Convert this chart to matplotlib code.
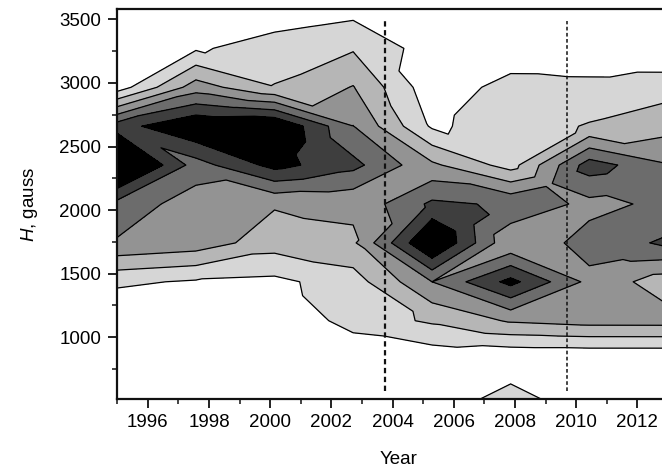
import numpy as np
import matplotlib
matplotlib.use("Agg")
import matplotlib.pyplot as plt
import matplotlib.tri as mtri
from matplotlib.ticker import MultipleLocator

plt.rcParams['font.family'] = ['Liberation Sans', 'DejaVu Sans']
plt.rcParams['mathtext.fontset'] = 'custom'
plt.rcParams['mathtext.it'] = 'Liberation Sans:italic'
plt.rcParams['mathtext.rm'] = 'Liberation Sans'

# grid of the map: years across, field strength (gauss) up
years = [1995.0, 1997.57, 2000.14, 2002.71, 2005.29, 2007.86, 2010.43, 2013.0]
field = [518, 824, 1130, 1436, 1742, 2048, 2354, 2660, 2966, 3272, 3578]

# occurrence level, one row per field value (bottom to top)
z = [
    [0.00, 0.00, 0.00, 0.00, 0.00, 1.60, 0.00, 0.00],
    [0.00, 0.00, 0.00, 0.00, 0.31, 0.00, 0.00, 0.00],
    [0.00, 0.00, 0.00, 1.45, 2.15, 3.12, 3.39, 3.40],
    [1.19, 0.88, 0.75, 1.53, 4.00, 6.32, 3.72, 2.43],
    [3.89, 3.56, 2.45, 2.83, 7.30, 3.15, 4.40, 5.18],
    [4.66, 3.48, 3.10, 3.20, 5.20, 4.85, 3.70, 4.24],
    [8.00, 4.56, 6.35, 5.30, 3.20, 1.58, 5.50, 4.12],
    [5.55, 7.00, 7.13, 4.02, 0.85, 1.43, 2.09, 2.61],
    [0.47, 3.50, 2.05, 3.05, 0.35, 1.38, 1.20, 1.63],
    [0.00, 0.86, 1.50, 1.90, 0.50, 0.30, 0.45, 0.00],
    [0.00, 0.00, 0.30, 0.65, 0.00, 0.00, 0.00, 0.00],
]

levels = [-1, 1, 2, 3, 4, 5, 6, 10]
shades = ['#ffffff', '#d6d6d6', '#b6b6b6', '#939393', '#6c6c6c', '#3e3e3e', '#000000']

# dashed markers for the cycle minima
minima = [2003.76, 2009.69]
minima_lw = [1.6, 1.1]


def edge_point(a, b, t):
    f = (t - a[2]) / (b[2] - a[2])
    return np.array([a[0] + f * (b[0] - a[0]), a[1] + f * (b[1] - a[1])])


def choose_split(zbl, zbr, ztl, ztr):
    # 0: cut the cell along BL-TR, 1: along BR-TL, 2: four triangles
    # round the cell mean.  Saddles never join the peaks; otherwise take
    # the cut that bends the contour lines least.
    BL, BR, TL, TR = (0, 0, zbl), (1, 0, zbr), (0, 1, ztl), (1, 1, ztr)
    C = (0.5, 0.5, (zbl + zbr + ztl + ztr) / 4)
    inner = [[(BL, TR)], [(BR, TL)], [(BL, C), (BR, C), (TL, C), (TR, C)]]
    cost = [0.0, 0.0, 0.0]
    for t in levels[1:-1]:
        hi = [p[2] > t for p in (BL, BR, TL, TR)]
        if hi[0] == hi[3] and hi[1] == hi[2] and hi[0] != hi[1]:
            cost[0 if hi[0] else 1] += 1000
            if C[2] > t:
                cost[2] += 1000
            continue
        pts = [edge_point(a, b, t) for a, b in ((BL, BR), (BR, TR), (TL, TR), (BL, TL))
               if (a[2] > t) != (b[2] > t)]
        if len(pts) != 2:
            continue
        p, r = pts
        d = r - p
        for k, segs in enumerate(inner):
            for a, b in segs:
                if (a[2] > t) != (b[2] > t):
                    q = edge_point(a, b, t) - p
                    cost[k] += abs(d[0] * q[1] - d[1] * q[0]) / np.hypot(*d)
    return int(np.argmin(cost)), C[2]


Z = np.array(z)
X, Y = np.meshgrid(years, field)
ny, nx = Z.shape
xs, ys, zs = list(X.ravel()), list(Y.ravel()), list(Z.ravel())
tris = []
for i in range(ny - 1):
    for j in range(nx - 1):
        bl, br = i * nx + j, i * nx + j + 1
        tl, tr = bl + nx, br + nx
        cut, zmid = choose_split(Z[i, j], Z[i, j + 1], Z[i + 1, j], Z[i + 1, j + 1])
        if cut == 0:
            tris += [[bl, br, tr], [bl, tr, tl]]
        elif cut == 1:
            tris += [[bl, br, tl], [br, tr, tl]]
        else:
            c = len(xs)
            xs.append((years[j] + years[j + 1]) / 2)
            ys.append((field[i] + field[i + 1]) / 2)
            zs.append(zmid)
            tris += [[bl, br, c], [br, tr, c], [tr, tl, c], [tl, bl, c]]
mesh = mtri.Triangulation(xs, ys, tris)

fig = plt.figure(figsize=(6.62, 4.71), dpi=100)
ax = fig.add_axes([0.1772, 0.1539, 0.8317, 0.826])

ax.tricontourf(mesh, zs, levels=levels, colors=shades)
ax.tricontour(mesh, zs, levels=levels[1:-1], colors='k', linewidths=0.9)

for x, lw in zip(minima, minima_lw):
    ax.vlines(x, 580, 3490, colors='#111111', linestyles=(0, (2.4, 1.6)), linewidth=lw)

ax.set_xlim(1995, 2013)
ax.set_ylim(518, 3578)
ax.xaxis.set_major_locator(MultipleLocator(2))
ax.xaxis.set_minor_locator(MultipleLocator(1))
ax.yaxis.set_major_locator(MultipleLocator(500))
ax.yaxis.set_minor_locator(MultipleLocator(250))
ax.tick_params(which='major', direction='out', length=6.5, width=1.3,
               labelsize=13.5, pad=5, color='#111111')
ax.tick_params(which='minor', direction='out', length=3.5, width=1.1, color='#111111')
for s in ax.spines.values():
    s.set_linewidth(1.6)
    s.set_color('#111111')

ax.set_xlabel('Year', fontsize=13.5)
ax.xaxis.set_label_coords(0.51, -0.135)
ax.set_ylabel('$H$, gauss', fontsize=13.5, labelpad=14)

fig.savefig('out.png', dpi=100)
